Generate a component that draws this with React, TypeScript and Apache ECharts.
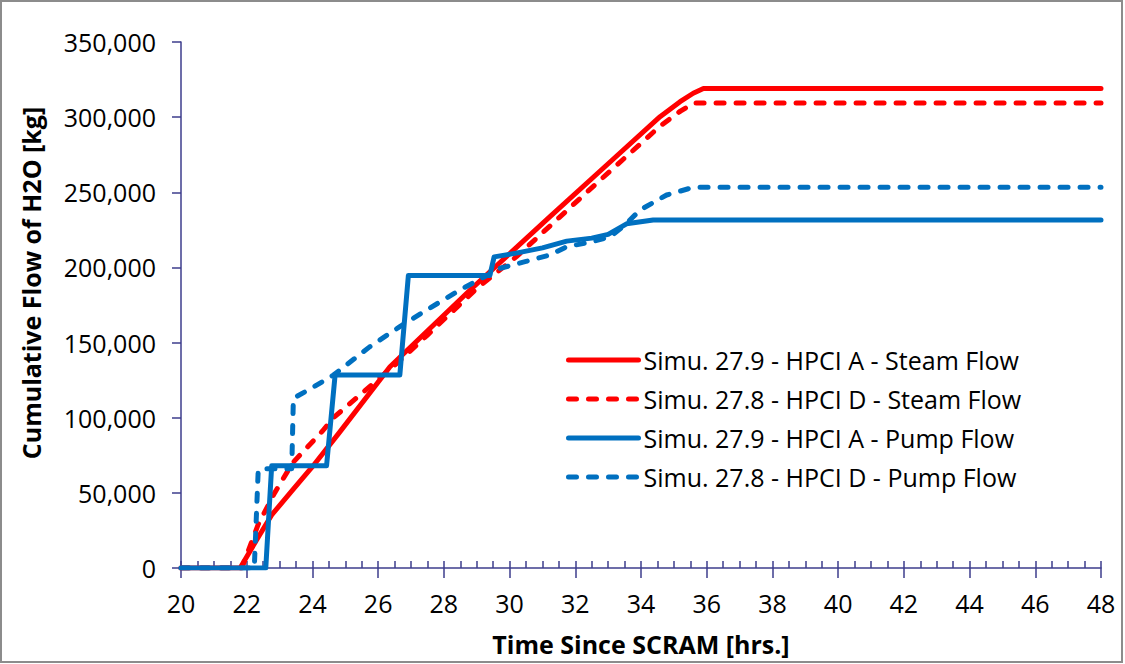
import React, { useEffect, useRef } from "react";
import * as echarts from "echarts";

const xTicks = { min: 20, max: 48, major: 2, minor: 0.5 };
const yTicks = { min: 0, max: 350000, interval: 50000 };

const seriesNames = [
  "Simu. 27.9 - HPCI A - Steam Flow",
  "Simu. 27.8 - HPCI D - Steam Flow",
  "Simu. 27.9 - HPCI A - Pump Flow",
  "Simu. 27.8 - HPCI D - Pump Flow",
];

// [time (hrs), cumulative flow (kg)]
const steamA: [number, number][] = [
  [20, 0], [21.8, 0], [22.3, 18600], [22.76, 35300], [23.4, 52000], [24.0, 67400],
  [24.8, 89600], [26.36, 133900], [28.8, 185000], [31.23, 233800], [33.0, 269000],
  [34.58, 300300], [35.19, 310300], [35.59, 315900], [35.9, 319000], [48, 319000],
];

const steamD: [number, number][] = [
  [20, 0], [21.85, 0], [22.35, 29000], [22.85, 50000], [23.4, 70000], [24.3, 91000],
  [24.64, 100000], [25.6, 118000], [26.56, 136000], [27.5, 155000], [29.0, 186000],
  [30.2, 207000], [31.5, 233000], [32.75, 258000], [34.58, 294000], [35.2, 304000],
  [35.6, 309400], [48, 309400],
];

const pumpA: [number, number][] = [
  [20, 0], [22.58, 0], [22.76, 68000], [24.43, 68000], [24.69, 128400], [26.66, 128400],
  [26.92, 194600], [29.4, 194600], [29.53, 207000], [30.2, 209500], [31.0, 213000],
  [31.74, 217500], [32.5, 219500], [33.0, 222000], [33.56, 229000], [34.37, 231600],
  [48, 231600],
];

const pumpD: [number, number][] = [
  [20, 0], [22.23, 0], [22.35, 65000], [22.5, 66000], [23.37, 66000], [23.42, 112900],
  [24.0, 120000], [24.64, 128400], [25.75, 147300], [26.66, 160600], [27.5, 172000],
  [28.49, 185000], [29.71, 199400], [30.5, 204000], [31.23, 208300], [31.74, 213800],
  [32.5, 217000], [33.06, 220400], [33.5, 228000], [33.97, 238200], [34.78, 248200],
  [35.59, 253300], [48, 253300],
];

const RED = "#FF0000";
const BLUE = "#0070C0";
const AXIS = "#3C3C8C";
const FONT = "'Open Sans', 'Noto Sans', sans-serif";

export default function App() {
  const ref = useRef<HTMLDivElement>(null);
  useEffect(() => {
    if (!ref.current) return;
    const chart = echarts.init(ref.current, undefined, { renderer: "svg" });
    const mk = (name: string, data: [number, number][], color: string, dashed: boolean, z: number) => ({
      name,
      type: "line",
      data,
      symbol: "none",
      showSymbol: false,
      z,
      lineStyle: {
        color,
        width: 5,
        type: dashed ? [8, 12] : "solid",
        cap: "round",
        join: "round",
      },
      itemStyle: { color, opacity: 0 },
    });
    chart.setOption({
      animation: false,
      backgroundColor: "#ffffff",
      grid: { left: 181, right: 24, top: 42, bottom: 96, containLabel: false },
      legend: {
        orient: "vertical",
        left: 566,
        top: 346,
        padding: 0,
        itemWidth: 70,
        itemHeight: 14,
        itemGap: 11,
        align: "left",
        data: seriesNames,
        itemStyle: { opacity: 0, borderWidth: 0 },
        lineStyle: { width: 5 },
        textStyle: { fontSize: 25, fontFamily: FONT, color: "#000", lineHeight: 28 },
      },
      xAxis: [
        {
          type: "value",
          min: xTicks.min,
          max: xTicks.max,
          interval: xTicks.major,
          position: "bottom",
          axisLine: { show: true, onZero: false, lineStyle: { color: AXIS, width: 1.5 } },
          axisTick: { show: true, inside: false, length: 10, lineStyle: { color: AXIS, width: 1.5 } },
          axisLabel: { fontSize: 25, fontFamily: FONT, color: "#000", margin: 22 },
          splitLine: { show: false },
        },
        {
          type: "value",
          min: xTicks.min,
          max: xTicks.max,
          interval: xTicks.minor,
          position: "bottom",
          axisLine: { show: false, onZero: false },
          axisTick: { show: true, inside: true, length: 7, lineStyle: { color: AXIS, width: 1.5 } },
          axisLabel: { show: false },
          splitLine: { show: false },
        },
      ],
      yAxis: {
        type: "value",
        min: yTicks.min,
        max: yTicks.max,
        interval: yTicks.interval,
        axisLine: { show: true, lineStyle: { color: AXIS, width: 1.5 } },
        axisTick: { show: true, inside: false, length: 9, lineStyle: { color: AXIS, width: 1.5 } },
        axisLabel: {
          fontSize: 25,
          fontFamily: FONT,
          color: "#000",
          margin: 25,
          formatter: (v: number) => v.toLocaleString("en-US"),
        },
        splitLine: { show: false },
      },
      graphic: [
        {
          type: "rect",
          shape: { x: 1, y: 1, width: 1121, height: 661 },
          style: { fill: "none", stroke: "#8c8c8c", lineWidth: 2 },
          silent: true,
        },
        {
          type: "text",
          x: 641,
          y: 644,
          style: {
            text: "Time Since SCRAM [hrs.]",
            font: `bold 25px ${FONT}`,
            fill: "#000",
            textAlign: "center",
            textVerticalAlign: "middle",
          },
        },
        {
          type: "text",
          x: 31,
          y: 283,
          rotation: Math.PI / 2,
          style: {
            text: "Cumulative Flow of H2O [kg]",
            font: `bold 25px ${FONT}`,
            fill: "#000",
            textAlign: "center",
            textVerticalAlign: "middle",
          },
        },
      ],
      series: [
        mk(seriesNames[0], steamA, RED, false, 2),
        mk(seriesNames[1], steamD, RED, true, 3),
        mk(seriesNames[2], pumpA, BLUE, false, 4),
        mk(seriesNames[3], pumpD, BLUE, true, 5),
      ],
    });
    return () => chart.dispose();
  }, []);
  return (
    <div
      ref={ref}
      style={{ position: "fixed", left: 0, top: 0, width: 1125, height: 664, background: "#fff" }}
    />
  );
}
